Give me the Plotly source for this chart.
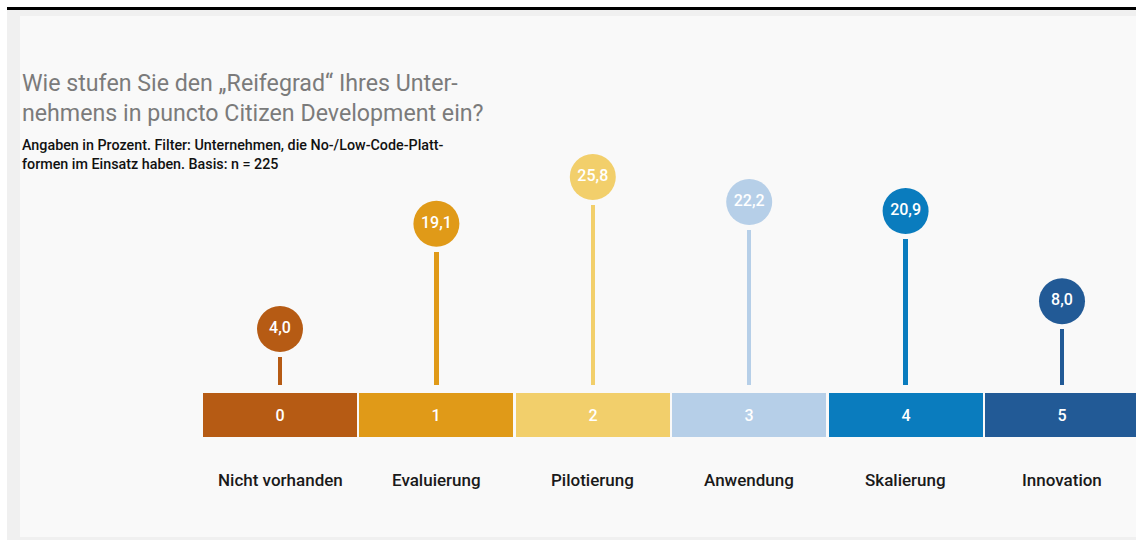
import plotly.graph_objects as go

# Reifegrad-Stufen und Anteile (in Prozent)
stufen = [0, 1, 2, 3, 4, 5]
kategorien = ["Nicht vorhanden", "Evaluierung", "Pilotierung", "Anwendung", "Skalierung", "Innovation"]
werte = [4.0, 19.1, 25.8, 22.2, 20.9, 8.0]
farben = ["#b65b14", "#e09a18", "#f2cf6b", "#b6cfe8", "#0a7cbe", "#225a96"]

W, H = 1136, 540
FONT = "Roboto"

# value axis: 0 sits at pixel row 385, about 7 px per percentage point
PX_PER_UNIT = 6.98
BASE_PX = 385
Y_TOP = BASE_PX / PX_PER_UNIT
Y_BOT = (BASE_PX - H) / PX_PER_UNIT

# category axis: step of 156.4 px, first level centred at x = 280 px
STEP = 156.4
X0 = -280 / STEP
X1 = X0 + W / STEP


def ypx(p):
    """pixel row -> value-axis coordinate"""
    return (BASE_PX - p) / PX_PER_UNIT


def fmt(v):
    return f"{v:.1f}".replace(".", ",")


fig = go.Figure()

# scale segments with level numbers
seg_bottom, seg_top = ypx(437), ypx(393)
fig.add_trace(go.Bar(
    x=stufen, y=[seg_top - seg_bottom] * len(stufen), base=seg_bottom,
    width=1 - 2.5 / STEP,
    marker=dict(color=farben, line=dict(width=0)),
    text=[str(s) for s in stufen], textposition="inside",
    insidetextanchor="middle", textangle=0,
    textfont=dict(family=FONT, size=16, color="white", weight=500),
    hoverinfo="skip", showlegend=False,
))

# lollipop stems
fig.add_trace(go.Bar(
    x=stufen, y=werte, base=0, width=4.5 / STEP,
    marker=dict(color=farben, line=dict(width=0)),
    hoverinfo="skip", showlegend=False,
))

# value bubbles on top of stems
fig.add_trace(go.Scatter(
    x=stufen, y=[v + 28 / PX_PER_UNIT for v in werte],
    mode="markers+text",
    marker=dict(size=46, color=farben, line=dict(width=0)),
    text=[fmt(v) for v in werte], textposition="middle center",
    textfont=dict(family=FONT, size=16, color="white", weight=500),
    hoverinfo="skip", showlegend=False, cliponaxis=False,
))

annotations = []
# category names below the scale
for s, k in zip(stufen, kategorien):
    annotations.append(dict(
        x=s, y=ypx(480), xref="x", yref="y", text=k, showarrow=False,
        xanchor="center", yanchor="middle",
        font=dict(family=FONT, size=17, color="#1a1a1a", weight=500),
    ))

# title (two lines) and note
annotations.append(dict(
    x=20 / W, y=1 - 98 / H, xref="paper", yref="paper",
    text="Wie stufen Sie den „Reifegrad“ Ihres Unter-<br>nehmens in puncto Citizen Development ein?",
    showarrow=False, xanchor="left", yanchor="middle", align="left",
    font=dict(family=FONT, size=23.2, color="#7b7b7b"),
))
annotations.append(dict(
    x=20 / W, y=1 - 155 / H, xref="paper", yref="paper",
    text="Angaben in Prozent. Filter: Unternehmen, die No-/Low-Code-Platt-<br>formen im Einsatz haben. Basis: n = 225",
    showarrow=False, xanchor="left", yanchor="middle", align="left",
    font=dict(family=FONT, size=14.3, color="#111111", weight=500),
))

shapes = [
    # outer frame
    dict(type="rect", xref="paper", yref="paper", layer="below",
         x0=7 / W, x1=1, y0=1 - 540 / H, y1=1 - 10 / H,
         fillcolor="#f0f0f0", line=dict(width=0)),
    # inner panel
    dict(type="rect", xref="paper", yref="paper", layer="below",
         x0=20 / W, x1=1, y0=1 - 537 / H, y1=1 - 16 / H,
         fillcolor="#f9f9f9", line=dict(width=0)),
    # black rule at top
    dict(type="rect", xref="paper", yref="paper", layer="above",
         x0=7 / W, x1=1, y0=1 - 10 / H, y1=1 - 7 / H,
         fillcolor="#000000", line=dict(width=0)),
]

fig.update_layout(
    width=W, height=H,
    margin=dict(l=0, r=0, t=0, b=0),
    paper_bgcolor="white", plot_bgcolor="rgba(0,0,0,0)",
    barmode="overlay", bargap=0,
    xaxis=dict(range=[X0, X1], visible=False, fixedrange=True),
    yaxis=dict(range=[Y_BOT, Y_TOP], visible=False, fixedrange=True),
    annotations=annotations, shapes=shapes,
    font=dict(family=FONT),
)

fig.write_html("out.html", config={"displayModeBar": False})
